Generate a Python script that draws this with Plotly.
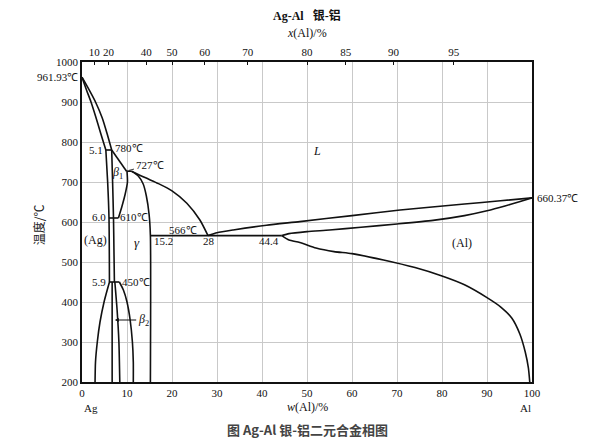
import plotly.graph_objects as go

# ---------------- data: w(Al) % and temperature (°C) ----------------
liq_left_w = [0, 1.5, 3.0, 4.5, 5.6, 6.6]
liq_left_T = [961.93, 932, 900, 860, 820, 780]

sol_ag_w = [0, 1.0, 2.0, 3.0, 4.2, 5.3]
sol_ag_T = [961.93, 930, 900, 865, 820, 780]

peri780_w = [5.3, 6.6]
peri780_T = [780, 780]

ag_solvus_up_w = [5.3, 5.7, 6.0, 6.1]
ag_solvus_up_T = [780, 700, 610, 450]

ag_solvus_low_w = [6.1, 5.6, 4.9, 4.0, 3.4, 3.0, 2.9]
ag_solvus_low_T = [450, 430, 400, 350, 300, 250, 200]

liq_780_727_w = [6.6, 9.9]
liq_780_727_T = [780, 727]

beta1_left_w = [6.6, 6.8, 7.0, 7.1, 7.2]
beta1_left_T = [780, 700, 610, 530, 450]

beta1_right_w = [10.0, 10.1, 9.6, 8.9, 8.1]
beta1_right_T = [727, 700, 670, 640, 610]

eut610_w = [6.0, 8.1]
eut610_T = [610, 610]

peri727_w = [9.9, 11.0]
peri727_T = [727, 727]

liq_mid_w = [11.0, 14.0, 17.0, 20.0, 23.3, 26.2, 28.0]
liq_mid_T = [727, 711, 696, 678, 647, 605, 566]

gamma_right_w = [11.0, 12.5, 13.6, 14.3, 14.9, 15.2, 15.2]
gamma_right_T = [727, 715, 695, 665, 620, 566, 200]

eut566_w = [15.2, 44.4]
eut566_T = [566, 566]

liq_right_w = [28.0, 30.0, 33.6, 41.0, 48.4, 60.0, 70.7, 85.0, 93.0, 100.0]
liq_right_T = [566, 573, 580, 592, 601, 616, 630, 645, 653, 660.37]

sol_al_w = [44.4, 46.0, 50.0, 55.0, 62.0, 70.0, 78.0, 85.0, 90.0, 94.0, 97.0, 100.0]
sol_al_T = [566, 571, 576, 580, 587, 595, 604, 616, 628, 640, 650, 660.37]

al_solvus_w = [44.4, 46.0, 48.4, 52.0, 56.0, 60.0, 67.0, 74.0, 80.0, 85.0, 90.0, 93.0,
               95.5, 97.3, 98.5, 99.2, 99.5]
al_solvus_T = [566, 555, 549, 535, 526, 521, 505, 486, 465, 443, 411, 388,
               360, 320, 275, 235, 200]

peri450_w = [6.1, 8.3]
peri450_T = [450, 450]

beta2_left_w = [6.7, 6.7]
beta2_left_T = [450, 200]

beta2_right_w = [7.3, 7.8, 8.2, 8.4]
beta2_right_T = [450, 380, 300, 200]

gamma_left_low_w = [8.3, 9.2, 10.0, 10.7, 11.2, 11.4, 11.4]
gamma_left_low_T = [450, 430, 400, 355, 300, 250, 200]

# axis ticks
y_ticks = [200, 300, 400, 500, 600, 700, 800, 900, 1000]
x_ticks = [0, 10, 20, 30, 40, 50, 60, 70, 80, 90, 100]
top_ticks_at = [10, 20, 40, 50, 60, 70, 80, 85, 90, 95]

M_AL, M_AG = 26.98, 107.87


def at_to_wt(x):
    a = x * M_AL
    return 100 * a / (a + (100 - x) * M_AG)


top_tick_pos = [at_to_wt(v) for v in top_ticks_at]

SERIF = "Liberation Serif"
LC = "#111111"

fig = go.Figure()

curves = [
    (liq_left_w, liq_left_T, True), (sol_ag_w, sol_ag_T, True), (peri780_w, peri780_T, False),
    (ag_solvus_up_w, ag_solvus_up_T, True), (ag_solvus_low_w, ag_solvus_low_T, True),
    (liq_780_727_w, liq_780_727_T, False), (beta1_left_w, beta1_left_T, True),
    (beta1_right_w, beta1_right_T, True), (eut610_w, eut610_T, False),
    (peri727_w, peri727_T, False), (liq_mid_w, liq_mid_T, True),
    (gamma_right_w, gamma_right_T, True), (eut566_w, eut566_T, False),
    (liq_right_w, liq_right_T, True), (sol_al_w, sol_al_T, True),
    (al_solvus_w, al_solvus_T, True), (peri450_w, peri450_T, False),
    (beta2_left_w, beta2_left_T, False), (beta2_right_w, beta2_right_T, True),
    (gamma_left_low_w, gamma_left_low_T, True),
]
for w, T, smooth in curves:
    fig.add_trace(go.Scatter(
        x=w, y=T, mode="lines", hoverinfo="skip", showlegend=False,
        line=dict(color=LC, width=1.6, shape="spline" if smooth else "linear",
                  smoothing=0.6 if smooth else None),
        cliponaxis=False,
    ))

# invisible trace for top axis
fig.add_trace(go.Scatter(x=[0, 100], y=[200, 200], xaxis="x2", mode="lines",
                         line=dict(width=0), hoverinfo="skip", showlegend=False))

ann = []


def lab(text, x, y, xanchor="center", size=11, xshift=0, yshift=0):
    ann.append(dict(text=text, x=x, y=y, xref="x", yref="y", showarrow=False,
                    xanchor=xanchor, yanchor="middle", xshift=xshift, yshift=yshift,
                    font=dict(family=SERIF, size=size, color="#111")))


lab("961.93℃", 0, 963, xanchor="right", xshift=-2)
lab("5.1", 5.0, 781, xanchor="right")
lab("780℃", 6.8, 784, xanchor="left")
lab("<i>β</i><sub>1</sub>", 7.9, 722, size=12)
lab("6.0", 5.7, 612, xanchor="right")
lab("610℃", 8.0, 612, xanchor="left")
lab("(Ag)", 2.9, 556, size=12)
lab("<i>γ</i>", 12.2, 550, size=13)
lab("15.2", 15.6, 552, xanchor="left")
lab("566℃", 22.5, 581)
lab("28", 28.2, 552)
lab("44.4", 41.5, 552)
lab("<i>L</i>", 52.2, 777, size=12)
lab("(Al)", 84.4, 548, size=12)
lab("660.37℃", 100, 661, xanchor="left", xshift=3)
lab("5.9", 5.7, 451, xanchor="right")
lab("450℃", 8.4, 451, xanchor="left")

# 727 label with leader
ann.append(dict(text="727℃", x=10.4, y=729, ax=15.0, ay=742, xref="x", yref="y",
                axref="x", ayref="y", showarrow=True, arrowhead=0, arrowwidth=0.8,
                arrowcolor="#111", font=dict(family=SERIF, size=11, color="#111")))
# beta2 label with arrow
ann.append(dict(text="<i>β</i><sub>2</sub>", x=7.3, y=355, ax=13.6, ay=355, xref="x", yref="y",
                axref="x", ayref="y", showarrow=True, arrowhead=2, arrowsize=0.8,
                arrowwidth=1, arrowcolor="#111", font=dict(family=SERIF, size=12, color="#111")))

# Ag / Al under axis ends
ann.append(dict(text="Ag", x=0, y=0, xref="x", yref="paper", yanchor="top", xanchor="left",
                yshift=-18, xshift=0, showarrow=False, font=dict(family=SERIF, size=11, color="#111")))
ann.append(dict(text="Al", x=100, y=0, xref="x", yref="paper", yanchor="top", xanchor="right",
                yshift=-18, xshift=1, showarrow=False, font=dict(family=SERIF, size=11, color="#111")))

# titles
ann.append(dict(text="<b>Ag-Al</b>   <b>银-铝</b>", x=0.5, y=1, xref="paper", yref="paper",
                yanchor="middle", yshift=47, showarrow=False,
                font=dict(family="Liberation Serif, Noto Sans CJK SC", size=12, color="#111")))
ann.append(dict(text="<i>x</i>(Al)/%", x=0.5, y=1, xref="paper", yref="paper",
                yanchor="middle", yshift=29, showarrow=False,
                font=dict(family=SERIF, size=12, color="#111")))
ann.append(dict(text="<i>w</i>(Al)/%", x=0.5, y=0, xref="paper", yref="paper",
                yanchor="middle", yshift=-25, showarrow=False,
                font=dict(family=SERIF, size=12, color="#111")))
ann.append(dict(text="温度/℃", x=0, y=0.49, xref="paper", yref="paper", textangle=-90,
                xanchor="center", yanchor="middle", xshift=-44, showarrow=False,
                font=dict(family="Noto Sans CJK SC", size=12, color="#222")))
ann.append(dict(text="<b>图 Ag-Al 银-铝二元合金相图</b>", x=0.5, y=0, xref="paper", yref="paper",
                yanchor="middle", yshift=-47, showarrow=False,
                font=dict(family="Noto Sans CJK SC", size=13, color="#444")))

tickfont = dict(family=SERIF, size=11, color="#111")

# page body has an 8px margin: shrink the figure so the plot box lands at the reference spot
fig.update_layout(
    width=605, height=433,
    margin=dict(l=74, r=81, t=54, b=59),
    paper_bgcolor="white", plot_bgcolor="white",
    showlegend=False,
    annotations=ann,
    xaxis=dict(range=[0, 100], tickvals=x_ticks, showgrid=True, gridcolor="#c9c9c9",
               gridwidth=1, ticks="", showline=True, linecolor="#111", linewidth=1.5,
               mirror=True, tickfont=tickfont, zeroline=False),
    xaxis2=dict(range=[0, 100], overlaying="x", side="top", tickvals=top_tick_pos,
                ticktext=[str(v) for v in top_ticks_at], showgrid=False, ticks="inside",
                ticklen=3, tickcolor="#111", showline=True, linecolor="#111", linewidth=1.5,
                tickfont=tickfont, zeroline=False),
    yaxis=dict(range=[200, 1000], tickvals=y_ticks, showgrid=True, gridcolor="#c9c9c9",
               gridwidth=1, ticks="", showline=True, linecolor="#111", linewidth=1.5,
               mirror=True, tickfont=tickfont, zeroline=False),
)

fig.write_html("out.html")
